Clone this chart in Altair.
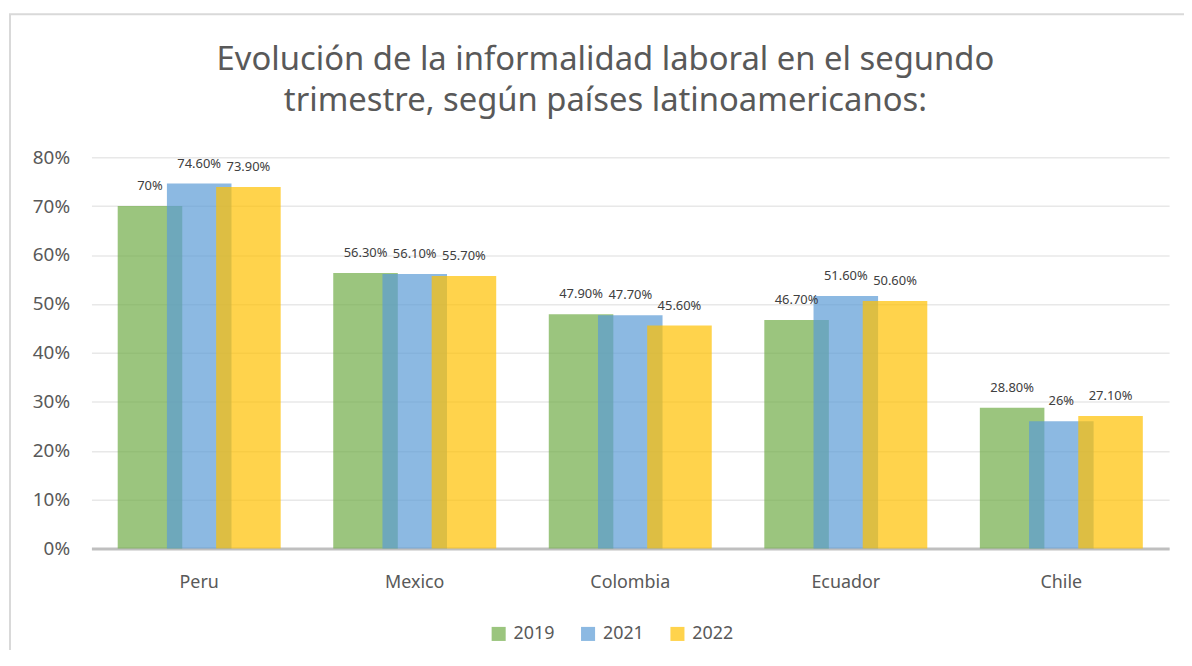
import altair as alt
import pandas as pd

countries = ["Peru", "Mexico", "Colombia", "Ecuador", "Chile"]
years = ["2019", "2021", "2022"]
v2019 = [0.70, 0.563, 0.479, 0.467, 0.288]
v2021 = [0.746, 0.561, 0.477, 0.516, 0.26]
v2022 = [0.739, 0.557, 0.456, 0.506, 0.271]
lab2019 = ["70%", "56.30%", "47.90%", "46.70%", "28.80%"]
lab2021 = ["74.60%", "56.10%", "47.70%", "51.60%", "26%"]
lab2022 = ["73.90%", "55.70%", "45.60%", "50.60%", "27.10%"]
colors = ["#70AD47", "#5B9BD5", "#FFC000"]
y_ticks = [0, 0.1, 0.2, 0.3, 0.4, 0.5, 0.6, 0.7, 0.8]

rows = []
for vals, labs, yr in [(v2019, lab2019, "2019"), (v2021, lab2021, "2021"), (v2022, lab2022, "2022")]:
    for c, v, l in zip(countries, vals, labs):
        rows.append({"country": c, "year": yr, "value": v, "label": l})
df = pd.DataFrame(rows)

FONT = "Noto Sans"
GREY = "#595959"

x_enc = alt.X("country:N", sort=countries, title=None,
              scale=alt.Scale(paddingInner=0, paddingOuter=0),
              axis=alt.Axis(labelAngle=0, labelFontSize=18, labelColor=GREY,
                            labelFont=FONT, labelPadding=25, ticks=False,
                            domainColor="#BFBFBF", domainWidth=3, grid=False))
xoff = alt.XOffset("year:N", sort=years,
                   scale=alt.Scale(paddingInner=0, paddingOuter=0.69))
y_enc = alt.Y("value:Q", title=None,
              scale=alt.Scale(domain=[0, 0.8], nice=False),
              axis=alt.Axis(values=y_ticks, format=".0%", labelFontSize=19,
                            labelColor=GREY, labelFont=FONT, labelPadding=22,
                            ticks=False, domain=False, gridColor="#E8E8E8",
                            gridWidth=1.5))

base = alt.Chart(df)

bars = base.mark_bar(width=65, opacity=0.7).encode(
    x=x_enc, xOffset=xoff, y=y_enc,
    color=alt.Color("year:N", sort=years,
                    scale=alt.Scale(domain=years, range=colors),
                    legend=alt.Legend(title=None, orient="none", direction="horizontal",
                                      legendX=401, legendY=471,
                                      symbolType="square", symbolSize=200,
                                      symbolOpacity=0.7, symbolStrokeWidth=0,
                                      labelFontSize=18, labelColor=GREY,
                                      labelFont=FONT, columnPadding=24,
                                      labelOffset=6)),
)

texts = base.mark_text(fontSize=13, color="#404040", font=FONT,
                       baseline="middle", dy=-20).encode(
    x=x_enc, xOffset=xoff, y=y_enc, text="label:N"
)

border = alt.Chart(alt.Data(values=[{}])).mark_rect(
    fill=None, stroke="#D9D9D9", strokeWidth=2
).encode(
    x=alt.value(-82), x2=alt.value(1150), y=alt.value(-144), y2=alt.value(560)
)

chart = alt.layer(border, bars, texts).properties(
    width=1085, height=394,
    autosize=alt.AutoSizeParams(type="none"),
    padding={"left": 84, "top": 148, "right": 15, "bottom": 100},
    title=alt.TitleParams(
        ["Evolución de la informalidad laboral en el segundo",
         "trimestre, según países latinoamericanos:"],
        fontSize=33, font=FONT, fontWeight="normal", color=GREY,
        anchor="middle", lineHeight=42, offset=-106, dx=-25,
    ),
).configure_view(stroke=None)

chart.save("out.html", embed_options={"renderer": "svg", "actions": False})
